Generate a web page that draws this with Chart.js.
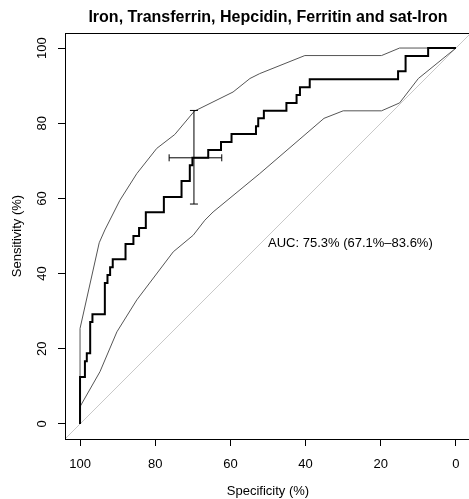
<!DOCTYPE html>
<html>
<head>
<meta charset="utf-8">
<script src="https://cdn.jsdelivr.net/npm/chart.js@4"></script>
<style>
  html, body { margin: 0; padding: 0; background: #fff; overflow: hidden; }
  #wrap { width: 469px; height: 499px; overflow: hidden; }
</style>
</head>
<body>
<div id="wrap"><canvas id="rocChart" width="480" height="499"></canvas></div>
<script>
// ROC curve (specificity %, sensitivity %) at each threshold
let rocSpec = [100, 98.7, 98.2, 97.3, 96.7, 93.4, 92.7, 92.0, 91.3, 87.9, 85.8, 84.3, 82.5, 77.7,
  73.0, 70.8, 70.1, 65.9, 62.5, 59.7, 53.2, 52.6, 51.1, 45.1, 42.4, 41.5, 38.9, 15.4, 13.4, 7.4, 0];
let rocSens = [0, 12.5, 16.7, 18.8, 27.1, 29.2, 37.5, 39.6, 41.7, 43.8, 47.9, 50.0, 52.1, 56.3,
  60.4, 64.6, 68.8, 70.8, 72.9, 75.0, 77.1, 79.2, 81.3, 83.3, 85.4, 87.5, 89.6, 91.7, 93.8, 97.9, 100];

// confidence band of sensitivity
let upperSpec = [100, 100, 94.9, 93.4, 89.4, 84.9, 79.6, 74.8, 69.6, 59.3, 54.8, 52.2, 40.2, 19.8, 15.0, 0];
let upperSens = [0, 25.4, 48.2, 51.6, 59.5, 66.6, 73.3, 77.0, 83.2, 88.3, 91.9, 93.2, 98.0, 98.0, 100, 100];
let lowerSpec = [100, 100, 94.7, 90.2, 84.9, 75.2, 69.9, 66.8, 64.6, 52.2, 35.1, 30.0, 19.8, 15.0, 10.0, 0];
let lowerSens = [0, 4.6, 13.9, 24.5, 33.0, 45.8, 50.2, 54.2, 56.4, 66.6, 81.3, 83.3, 83.3, 85.4, 91.9, 100];

// best threshold with its CI
let bestSpec = 69.7, bestSens = 70.8;
let specCI = [76.3, 62.3];
let sensCI = [58.5, 83.4];

let aucText = "AUC: 75.3% (67.1%\u201383.6%)";
let tickValues = [0, 20, 40, 60, 80, 100];
let axisMin = -4, axisMax = 104;

const FONT = "'Liberation Sans', Arial, Helvetica, sans-serif";

function toPoints(xs, ys) {
  return xs.map((x, i) => ({ x: x, y: ys[i] }));
}

// box round the plot region, like R's bty="o"
const boxPlugin = {
  id: 'box',
  afterDatasetsDraw(chart) {
    let { ctx, chartArea: a } = chart;
    ctx.save();
    ctx.strokeStyle = '#000';
    ctx.lineWidth = 1;
    ctx.strokeRect(Math.round(a.left) + 0.5, Math.round(a.top) + 0.5,
      Math.round(a.right - a.left), Math.round(a.bottom - a.top));
    ctx.restore();
  }
};

// AUC label, left aligned at spec 50 / sens 48
const aucPlugin = {
  id: 'aucLabel',
  afterDraw(chart) {
    let ctx = chart.ctx;
    let x = chart.scales.x.getPixelForValue(50);
    let y = chart.scales.y.getPixelForValue(48);
    ctx.save();
    ctx.font = "13px " + FONT;
    ctx.fillStyle = '#000';
    ctx.textAlign = 'left';
    ctx.textBaseline = 'middle';
    ctx.fillText(aucText, x, y);
    ctx.restore();
  }
};

let ctx = document.getElementById("rocChart").getContext("2d");

let myChart = new Chart(ctx, {
  type: 'line',
  data: {
    datasets: [
      {
        label: 'roc',
        data: toPoints(rocSpec, rocSens),
        borderColor: '#000',
        borderWidth: 2,
        stepped: 'after',
        pointRadius: 0,
        order: 1
      },
      {
        label: 'upper',
        data: toPoints(upperSpec, upperSens),
        borderColor: '#555',
        borderWidth: 1,
        pointRadius: 0,
        order: 3
      },
      {
        label: 'lower',
        data: toPoints(lowerSpec, lowerSens),
        borderColor: '#555',
        borderWidth: 1,
        pointRadius: 0,
        order: 3
      },
      {
        label: 'chance',
        data: [{ x: axisMax, y: 100 - axisMax }, { x: axisMin, y: 100 - axisMin }],
        borderColor: '#c8c8c8',
        borderWidth: 1,
        pointRadius: 0,
        order: 5
      },
      {
        label: 'specCI',
        data: specCI.map(v => ({ x: v, y: bestSens })),
        borderColor: '#000',
        borderWidth: 1,
        pointStyle: 'line',
        pointRotation: 90,
        pointRadius: 3.5,
        pointBorderColor: '#000',
        pointBorderWidth: 1,
        order: 0
      },
      {
        label: 'sensCI',
        data: sensCI.map(v => ({ x: bestSpec, y: v })),
        borderColor: '#000',
        borderWidth: 1,
        pointStyle: 'line',
        pointRotation: 0,
        pointRadius: 4,
        pointBorderColor: '#000',
        pointBorderWidth: 1,
        order: 0
      }
    ]
  },
  options: {
    responsive: false,
    animation: false,
    layout: { padding: { left: 0, right: 9, top: 0, bottom: 0 } },
    plugins: {
      legend: { display: false },
      tooltip: { enabled: false },
      title: {
        display: true,
        text: 'Iron, Transferrin, Hepcidin, Ferritin and sat-Iron',
        fullSize: false,
        color: '#000',
        font: { family: FONT, size: 16, weight: 'bold' },
        padding: { top: 8.4, bottom: 5.4 }
      }
    },
    scales: {
      x: {
        type: 'linear',
        min: axisMin,
        max: axisMax,
        reverse: true,
        afterBuildTicks: scale => { scale.ticks = tickValues.map(v => ({ value: v })); },
        afterFit: scale => { scale.height = 60; },
        grid: { drawOnChartArea: false, drawTicks: true, tickLength: 7, color: '#000' },
        border: { display: false },
        ticks: { color: '#000', font: { family: FONT, size: 13 }, padding: 11, maxRotation: 0 },
        title: {
          display: true,
          text: 'Specificity (%)',
          color: '#000',
          font: { family: FONT, size: 13 },
          padding: { top: 3, bottom: 0 }
        }
      },
      y: {
        type: 'linear',
        min: axisMin,
        max: axisMax,
        afterBuildTicks: scale => { scale.ticks = tickValues.map(v => ({ value: v })); },
        afterFit: scale => { scale.width = 65; },
        grid: { drawOnChartArea: false, drawTicks: true, tickLength: 7, color: '#000' },
        border: { display: false },
        ticks: {
          color: '#000',
          font: { family: FONT, size: 13 },
          minRotation: 90,
          maxRotation: 90,
          crossAlign: 'center',
          padding: 5
        },
        title: {
          display: true,
          text: 'Sensitivity (%)',
          color: '#000',
          font: { family: FONT, size: 13 },
          padding: { top: 10, bottom: 0 }
        }
      }
    }
  },
  plugins: [boxPlugin, aucPlugin]
});
</script>
</body>
</html>
